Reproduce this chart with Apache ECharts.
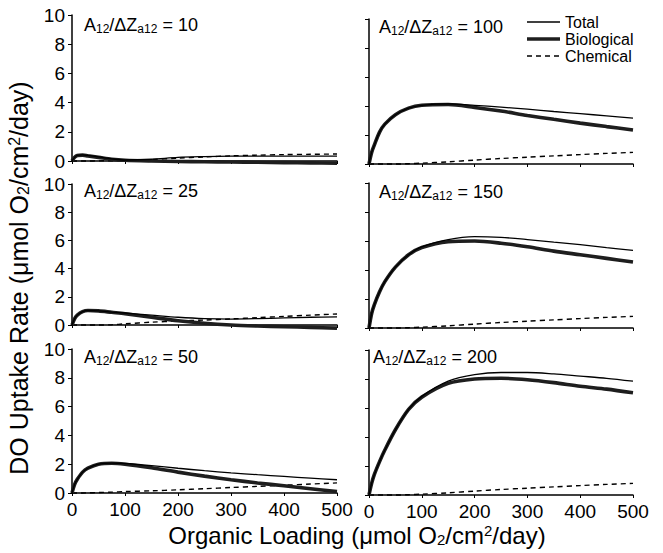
<!DOCTYPE html>
<html><head><meta charset="utf-8">
<script src="https://cdn.jsdelivr.net/npm/echarts@6/dist/echarts.min.js"></script>
<style>html,body{margin:0;padding:0;background:#fff}#c{width:663px;height:553px}</style>
</head><body><div id="c"></div>
<script>
// Organic loading (x) sample points
const loading = [0, 5, 10, 20, 30, 50, 75, 100, 150, 200, 250, 300, 350, 400, 450, 500];
const xTickValues = [0, 100, 200, 300, 400, 500];
const yTickValues = [0, 2, 4, 6, 8, 10];
const ratios = [10, 25, 50, 100, 150, 200];
const seriesNames = ['Total', 'Biological', 'Chemical'];

// A12/dZa12 = 10
const total10 = [0, 0.25, 0.38, 0.42, 0.38, 0.28, 0.15, 0.07, 0.12, 0.25, 0.3, 0.33, 0.34, 0.34, 0.34, 0.33];
const bio10   = [0, 0.25, 0.37, 0.4, 0.35, 0.25, 0.12, 0.05, 0.0, -0.03, -0.05, -0.07, -0.09, -0.11, -0.13, -0.15];
const chem10  = [0, 0, 0, 0, 0, 0.01, 0.02, 0.03, 0.1, 0.2, 0.28, 0.35, 0.4, 0.44, 0.46, 0.48];
// A12/dZa12 = 25
const total25 = [0, 0.45, 0.7, 0.95, 1.03, 1.0, 0.92, 0.85, 0.7, 0.55, 0.45, 0.42, 0.45, 0.5, 0.55, 0.58];
const bio25   = [0, 0.45, 0.7, 0.95, 1.03, 1.0, 0.9, 0.8, 0.55, 0.3, 0.12, 0.0, -0.07, -0.12, -0.17, -0.22];
const chem25  = [0, 0, 0, 0, 0, 0, 0.02, 0.08, 0.2, 0.28, 0.35, 0.43, 0.52, 0.61, 0.7, 0.78];
// A12/dZa12 = 50
const total50 = [0, 0.6, 0.95, 1.45, 1.72, 2.0, 2.08, 2.05, 1.9, 1.72, 1.55, 1.4, 1.27, 1.15, 1.03, 0.92];
const bio50   = [0, 0.6, 0.95, 1.45, 1.72, 2.0, 2.07, 2.0, 1.75, 1.45, 1.17, 0.92, 0.7, 0.5, 0.3, 0.1];
const chem50  = [0, 0, 0, 0, 0.01, 0.03, 0.06, 0.1, 0.15, 0.22, 0.3, 0.38, 0.46, 0.54, 0.62, 0.7];
// A12/dZa12 = 100
const total100 = [0, 0.8, 1.3, 2.2, 2.75, 3.4, 3.85, 4.05, 4.15, 4.05, 3.92, 3.78, 3.62, 3.47, 3.32, 3.17];
const bio100   = [0, 0.8, 1.3, 2.2, 2.75, 3.4, 3.85, 4.05, 4.1, 3.9, 3.65, 3.35, 3.08, 2.82, 2.58, 2.35];
const chem100  = [0, 0, 0, 0, 0, 0, 0.02, 0.06, 0.15, 0.27, 0.38, 0.47, 0.56, 0.65, 0.73, 0.8];
// A12/dZa12 = 150
const total150 = [0, 1.0, 1.6, 2.5, 3.2, 4.2, 5.05, 5.6, 6.1, 6.3, 6.25, 6.1, 5.92, 5.75, 5.55, 5.35];
const bio150   = [0, 1.0, 1.6, 2.5, 3.2, 4.2, 5.05, 5.55, 5.95, 6.0, 5.85, 5.6, 5.3, 5.05, 4.8, 4.55];
const chem150  = [0, 0, 0, 0, 0, 0, 0.02, 0.06, 0.15, 0.27, 0.38, 0.47, 0.56, 0.65, 0.73, 0.8];
// A12/dZa12 = 200
const total200 = [0, 0.8, 1.4, 2.3, 3.1, 4.5, 5.9, 6.8, 7.85, 8.3, 8.45, 8.45, 8.35, 8.2, 8.05, 7.85];
const bio200   = [0, 0.8, 1.4, 2.3, 3.1, 4.5, 5.9, 6.75, 7.7, 8.0, 8.05, 7.95, 7.75, 7.5, 7.3, 7.05];
const chem200  = [0, 0, 0, 0, 0, 0, 0.02, 0.06, 0.15, 0.27, 0.38, 0.47, 0.56, 0.65, 0.73, 0.8];

const panels = [
  [total10, bio10, chem10],
  [total25, bio25, chem25],
  [total50, bio50, chem50],
  [total100, bio100, chem100],
  [total150, bio150, chem150],
  [total200, bio200, chem200]
];

const FONT = "'Liberation Sans', Arial, Helvetica, sans-serif";
const gridBoxes = [
  {left: 72, top: 15, width: 265, height: 146},
  {left: 72, top: 184, width: 265, height: 141},
  {left: 72, top: 349, width: 265, height: 144},
  {left: 369, top: 19, width: 264, height: 145},
  {left: 369, top: 183, width: 264, height: 145},
  {left: 369, top: 350, width: 264, height: 145}
];
const labelPos = [[84, 25], [84, 191], [84, 357], [379, 27], [379, 192], [373, 357]];

const zip = (xs, ys) => xs.map((x, i) => [x, ys[i]]);
const axisLineStyle = {color: '#000', width: 1.5};

const option = {
  animation: false,
  backgroundColor: '#fff',
  grid: gridBoxes.map(g => Object.assign({containLabel: false}, g)),
  xAxis: gridBoxes.map((g, i) => ({
    type: 'value', gridIndex: i, min: xTickValues[0], max: xTickValues[xTickValues.length - 1], interval: 100,
    axisLine: {show: true, onZero: false, lineStyle: axisLineStyle},
    axisTick: {show: true, length: 3, lineStyle: {color: '#000', width: 1}},
    splitLine: {show: false},
    axisLabel: {show: i === 2 || i === 5, fontSize: 19, color: '#000', fontFamily: FONT, margin: 7}
  })),
  yAxis: gridBoxes.map((g, i) => ({
    type: 'value', gridIndex: i, min: yTickValues[0], max: yTickValues[yTickValues.length - 1], interval: 2,
    axisLine: {show: true, lineStyle: axisLineStyle},
    axisTick: {show: true, length: 4, lineStyle: {color: '#000', width: 1}},
    splitLine: {show: false},
    axisLabel: {show: i < 3, fontSize: 19, color: '#000', fontFamily: FONT, margin: 7}
  })),
  series: [],
  graphic: []
};

const styles = [
  {color: '#000', width: 1.3, type: 'solid'},
  {color: '#1e1e1e', width: 3.6, type: 'solid'},
  {color: '#000', width: 1.4, type: [5, 4]}
];
const order = [2, 1, 0];
panels.forEach((p, i) => {
  order.forEach(k => {
    option.series.push({
      name: seriesNames[k], type: 'line', xAxisIndex: i, yAxisIndex: i,
      data: zip(loading, p[k]), symbol: 'none', smooth: 0.3, clip: false,
      lineStyle: styles[k], itemStyle: {color: styles[k].color}, z: 3 - k
    });
  });
});

// legend (drawn as sample lines + labels in the top-right panel)
const legendY = [22, 39, 56];
seriesNames.forEach((n, k) => {
  option.graphic.push({
    type: 'line', shape: {x1: 527, y1: legendY[k], x2: 560, y2: legendY[k]},
    style: {stroke: styles[k].color, lineWidth: styles[k].width, lineDash: Array.isArray(styles[k].type) ? styles[k].type : null}
  });
  option.graphic.push({
    type: 'text', x: 565, y: legendY[k],
    style: {text: n, font: '16px ' + FONT, fill: '#000', verticalAlign: 'middle', align: 'left'}
  });
});

const richLbl = {
  a: {fontSize: 18, fontFamily: FONT, color: '#000', lineHeight: 20},
  s: {fontSize: 12, fontFamily: FONT, color: '#000', lineHeight: 14, verticalAlign: 'bottom'}
};
ratios.forEach((r, i) => {
  option.graphic.push({
    type: 'text', x: labelPos[i][0], y: labelPos[i][1],
    style: {text: '{a|A}{s|12}{a|/\u0394Z}{s|a12}{a| = ' + r + '}', rich: richLbl, verticalAlign: 'middle', align: 'left'}
  });
});
const richTitle = (fs) => ({
  t: {fontSize: fs, fontFamily: FONT, color: '#000', lineHeight: fs},
  sub: {fontSize: Math.round(fs * 0.62), fontFamily: FONT, color: '#000', lineHeight: fs - 8, verticalAlign: 'bottom'},
  sup: {fontSize: Math.round(fs * 0.62), fontFamily: FONT, color: '#000', lineHeight: fs - 8, verticalAlign: 'top'}
});
option.graphic.push({
  type: 'text', x: 357, y: 535,
  style: {text: '{t|Organic Loading (\u03bcmol O}{sub|2}{t|/cm}{sup|2}{t|/day)}', rich: richTitle(24), align: 'center', verticalAlign: 'middle'}
});
option.graphic.push({
  type: 'text', x: 19, y: 278, rotation: Math.PI / 2,
  style: {text: '{t|DO Uptake Rate (\u03bcmol O}{sub|2}{t|/cm}{sup|2}{t|/day)}', rich: richTitle(25), align: 'center', verticalAlign: 'middle'}
});

const chart = echarts.init(document.getElementById('c'), null, {renderer: 'svg', width: 663, height: 553});
chart.setOption(option);
</script>
</body></html>
